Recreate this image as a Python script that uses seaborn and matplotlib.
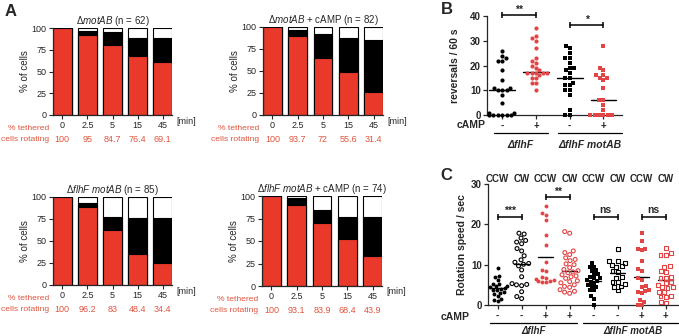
import warnings
import numpy as np
import pandas as pd
import matplotlib
matplotlib.use('Agg')
import matplotlib.pyplot as plt
import seaborn as sns

warnings.filterwarnings('ignore')

sns.set_style('ticks')
plt.rcParams['font.family'] = ['Liberation Sans', 'DejaVu Sans']
plt.rcParams['mathtext.fontset'] = 'custom'
plt.rcParams['mathtext.rm'] = 'Liberation Sans'
plt.rcParams['mathtext.it'] = 'Liberation Sans:italic'
plt.rcParams['mathtext.bf'] = 'Liberation Sans:bold'
plt.rcParams['axes.linewidth'] = 0.9

RED = '#E8392B'
TXT_RED = '#E0553F'
DOT_RED = '#E24545'

# ---------------- Panel A data ----------------
times = ['0', '2.5', '5', '15', '45']
a_titles = [r'$\mathit{ΔmotAB}$ (n = 62)',
            r'$\mathit{ΔmotAB}$ + cAMP (n = 82)',
            r'$\mathit{ΔflhF\ motAB}$ (n = 85)',
            r'$\mathit{ΔflhF\ motAB}$ + cAMP (n = 74)']
# % red (bottom), % black (middle), % white (top)
a_red = [[100, 91.5, 80.8, 67.3, 60.8],
         [100, 90.0, 65.0, 48.3, 26.0],
         [100, 88.6, 62.7, 35.4, 24.7],
         [100, 89.7, 69.5, 51.8, 33.0]]
a_black = [[0, 5.5, 15.0, 21.7, 28.2],
           [0, 6.6, 27.0, 39.0, 59.0],
           [0, 4.4, 14.1, 40.6, 51.3],
           [0, 7.7, 14.7, 25.4, 44.2]]
a_white = [[0, 3.0, 4.2, 11.0, 11.0],
           [0, 3.4, 8.0, 12.7, 15.0],
           [0, 7.0, 23.2, 24.0, 24.0],
           [0, 2.6, 15.8, 22.8, 22.8]]
a_rotating = [[100, 95, 84.7, 76.4, 69.1],
              [100, 93.7, 72, 55.6, 31.4],
              [100, 96.2, 83, 48.4, 34.4],
              [100, 93.1, 83.9, 68.4, 43.9]]

# ---------------- Panel B data ----------------
b_groups = ['flhF-', 'flhF+', 'flhFmotAB-', 'flhFmotAB+']
b_flhF_minus = [26, 24, 23, 22, 22, 18, 14, 11, 10, 10, 10, 11, 8, 5, 1, 0, 0, 0, 0, 0, 0, 1]
b_flhF_plus = [35, 32, 31, 30, 27, 23, 22, 21, 20, 19, 18, 17, 17, 17, 17, 17, 16, 15, 15, 13, 13, 10]
b_motAB_minus = [28, 27, 25, 23, 23, 21, 19, 19, 18, 17, 15, 15, 13, 12, 12, 10, 10, 8, 2, 0, 0]
b_motAB_plus = [28, 19, 18, 16, 15, 14, 15, 16, 11, 6, 6, 4, 2, 0, 0, 0, 0, 0, 0]
b_camp = ['-', '+', '-', '+']

# ---------------- Panel C data ----------------
c_groups = ['g1', 'g2', 'g3', 'g4', 'g5', 'g6', 'g7', 'g8']
c_dir = ['CCW', 'CW', 'CCW', 'CW', 'CCW', 'CW', 'CCW', 'CW']
c_camp = ['-', '-', '+', '+', '-', '-', '+', '+']
c_vals = [
    [9.2, 7.3, 7.0, 6.2, 5.3, 5.2, 4.7, 4.6, 4.5, 4.1, 4.0, 3.8, 3.7, 3.2, 3.0, 2.8, 2.2, 1.5, 1.3, 1.0],
    [17.8, 17.6, 16.6, 16.0, 15.6, 15.2, 14.0, 13.4, 12.2, 11.2, 10.6, 10.3, 10.1, 9.7, 8.7, 7.0,
     5.3, 5.0, 5.1, 4.8, 3.3, 2.1, 1.6],
    [24.5, 22.8, 22.4, 21.0, 17.3, 15.0, 10.7, 8.6, 8.5, 7.0, 6.8, 6.5, 6.2, 6.0, 5.9, 5.8, 5.7],
    [18.2, 17.8, 13.4, 13.0, 12.5, 11.7, 11.3, 11.0, 10.2, 10.0, 9.3, 8.8, 8.5, 8.2, 8.0, 7.5, 7.2,
     7.0, 6.6, 6.0, 5.8, 5.5, 5.0, 4.6, 4.4, 3.8, 3.4, 3.2, 2.9],
    [10.3, 9.5, 9.3, 8.7, 8.5, 7.8, 7.6, 7.0, 6.8, 6.6, 6.3, 6.0, 5.8, 5.4, 5.0, 4.6, 4.4, 3.8, 3.6,
     2.3, 1.6, 0.1],
    [13.8, 11.0, 10.8, 10.5, 10.0, 9.6, 9.4, 8.4, 8.2, 7.0, 6.8, 5.8, 5.6, 5.2, 4.6, 4.4, 3.6],
    [17.8, 15.9, 14.0, 13.8, 13.6, 10.8, 9.0, 8.5, 6.6, 6.2, 4.6, 4.5, 3.7, 3.5, 3.2, 2.9, 1.2, 0.8,
     0.1, 0.0],
    [14.2, 12.8, 12.4, 12.4, 9.6, 9.4, 8.5, 8.2, 7.0, 6.8, 6.7, 5.6, 5.4, 5.0, 4.4, 4.4, 4.2, 3.3,
     3.2, 2.2, 2.1, 2.0, 0.8, 0.6],
]

W, H = 679, 336
fig = plt.figure(figsize=(W / 100, H / 100), dpi=100)


def px_axes(x0, y0, x1, y1):
    return fig.add_axes([x0 / W, 1 - y1 / H, (x1 - x0) / W, (y1 - y0) / H])


# ---------------- Panel A ----------------
a_boxes = [(53, 28, 172, 115), (263, 27, 383, 115), (53, 197, 172, 285), (262, 196, 382, 286)]
for k, box in enumerate(a_boxes):
    ax = px_axes(*box)
    red = np.array(a_red[k])
    black = np.array(a_black[k])
    white = np.array(a_white[k])
    kw = dict(order=times, width=0.74, saturation=1, edgecolor='black', linewidth=0.8, ax=ax)
    sns.barplot(x=times, y=red + black + white, color='white', **kw)
    sns.barplot(x=times, y=red + black, color='black', **kw)
    sns.barplot(x=times, y=red, color=RED, **kw)
    ax.set_xlim(-0.37, 4.37)
    ax.set_ylim(0, 100)
    ax.set_yticks([0, 25, 50, 75, 100])
    ax.set_xlabel('')
    ax.set_ylabel('% of cells', fontsize=7, labelpad=1)
    ax.set_title(a_titles[k], fontsize=7, pad=3)
    ax.tick_params(labelsize=6.5, length=3, width=0.8, pad=1.5)
    sns.despine(ax=ax)
    for i, v in enumerate(a_rotating[k]):
        ax.annotate(f'{v:g}', xy=(i, 0), xycoords=('data', 'axes fraction'), xytext=(0, -24.5),
                    textcoords='offset pixels', ha='center', va='center', color=TXT_RED, fontsize=6.5)
    ax.annotate('% tethered', xy=(0, 0), xycoords='axes fraction', xytext=(-4, -13.5),
                textcoords='offset pixels', ha='right', va='center', color=TXT_RED, fontsize=6.1)
    ax.annotate('cells rotating', xy=(0, 0), xycoords='axes fraction', xytext=(-4, -24.5),
                textcoords='offset pixels', ha='right', va='center', color=TXT_RED, fontsize=6.1)
    ax.annotate('[min]', xy=(1, 0), xycoords='axes fraction', xytext=(4, -6),
                textcoords='offset pixels', ha='left', va='center', fontsize=6.5)


def swarm_group(ax, order, group, vals, marker, color, filled, size):
    n_before = len(ax.collections)
    sns.swarmplot(x=[group] * len(vals), y=vals, order=order, marker=marker, color=color,
                  size=size, linewidth=0, ax=ax)
    for coll in ax.collections[n_before:]:
        if filled:
            coll.set_clip_on(False)
        else:
            coll.set_facecolor('none')
            coll.set_edgecolor(color)
            coll.set_linewidth(0.8)


def sig_bar(ax, x0, x1, y, label, dy, fs=7.5):
    ax.plot([x0, x1], [y, y], color='black', lw=1.1, marker='|', ms=5, mew=1.1, clip_on=False)
    ax.text((x0 + x1) / 2, y + dy, label, ha='center', va='bottom', fontsize=fs,
            fontweight='bold', clip_on=False)


# ---------------- Panel B ----------------
axb = px_axes(487, 16, 622, 115)
b_vals = [b_flhF_minus, b_flhF_plus, b_motAB_minus, b_motAB_plus]
b_style = [('o', 'black'), ('o', DOT_RED), ('s', 'black'), ('s', DOT_RED)]
for g, vals, (m, c) in zip(b_groups, b_vals, b_style):
    swarm_group(axb, b_groups, g, vals, m, c, True, 3.0)
for i, vals in enumerate(b_vals):
    med = np.median(vals)
    axb.plot([i - 0.38, i + 0.38], [med, med], color='black', lw=1)
axb.set_xlim(-0.45, 3.55)
axb.set_ylim(0, 40)
axb.set_yticks([0, 10, 20, 30, 40])
axb.set_xticks(range(4))
axb.set_xticklabels(b_camp, fontweight='bold', fontsize=7.5)
axb.set_xlabel('')
axb.set_ylabel('reversals / 60 s', fontsize=7.5, fontweight='bold', labelpad=7)
axb.tick_params(labelsize=7, length=3, width=0.9, pad=1.5)
for t in axb.get_yticklabels():
    t.set_fontweight('bold')
sns.despine(ax=axb)
sig_bar(axb, 0, 1, 40.4, '**', 0.0)
sig_bar(axb, 2, 3, 36.4, '*', 0.0)
xt = axb.get_xaxis_transform()
axb.text(-0.5, -0.105, 'cAMP', transform=xt, ha='right', va='center', fontsize=7.5,
         fontweight='bold', clip_on=False)
axb.plot([-0.24, 1.36], [-0.18, -0.18], transform=xt, color='black', lw=0.9, clip_on=False)
axb.plot([1.65, 3.55], [-0.18, -0.18], transform=xt, color='black', lw=0.9, clip_on=False)
axb.text(0.55, -0.30, 'ΔflhF', transform=xt, ha='center', va='center', fontsize=7.5,
         fontweight='bold', fontstyle='italic')
axb.text(2.6, -0.30, 'ΔflhF motAB', transform=xt, ha='center', va='center', fontsize=7.5,
         fontweight='bold', fontstyle='italic')

# ---------------- Panel C ----------------
axc = px_axes(488, 184, 678, 305)
c_style = [('o', 'black', True), ('o', 'black', False), ('o', DOT_RED, True), ('o', DOT_RED, False),
           ('s', 'black', True), ('s', 'black', False), ('s', DOT_RED, True), ('s', DOT_RED, False)]
for g, vals, (m, c, f) in zip(c_groups, c_vals, c_style):
    swarm_group(axc, c_groups, g, vals, m, c, f, 2.8)
for i, vals in enumerate(c_vals):
    mu = np.mean(vals)
    axc.plot([i - 0.32, i + 0.32], [mu, mu], color='black', lw=1)
axc.set_xlim(-0.4, 7.51)
axc.set_ylim(0, 30)
axc.set_yticks([0, 10, 20, 30])
axc.set_xticks(range(8))
axc.set_xticklabels(c_camp, fontweight='bold', fontsize=7.5)
axc.set_xlabel('')
axc.set_ylabel('Rotation speed / sec', fontsize=7.5, fontweight='bold', labelpad=3)
axc.tick_params(labelsize=7, length=3, width=0.9, pad=1.5)
for t in axc.get_yticklabels():
    t.set_fontweight('bold')
sns.despine(ax=axc)
for i, d in enumerate(c_dir):
    axc.text(i, 31.2, d, ha='center', va='center', fontsize=7, fontweight='bold', clip_on=False)
sig_bar(axc, 0, 1, 21.9, '***', 0.1)
sig_bar(axc, 2, 3, 26.8, '**', 0.1)
sig_bar(axc, 4, 5, 21.9, 'ns', 0.4)
sig_bar(axc, 6, 7, 21.9, 'ns', 0.4)
xt = axc.get_xaxis_transform()
axc.text(-1.15, -0.10, 'cAMP', transform=xt, ha='right', va='center', fontsize=7.5,
         fontweight='bold', clip_on=False)
axc.plot([-0.32, 3.31], [-0.149, -0.149], transform=xt, color='black', lw=0.9, clip_on=False)
axc.plot([3.56, 7.51], [-0.149, -0.149], transform=xt, color='black', lw=0.9, clip_on=False)
axc.text(1.48, -0.215, 'ΔflhF', transform=xt, ha='center', va='center', fontsize=7,
         fontweight='bold', fontstyle='italic')
axc.text(5.64, -0.215, 'ΔflhF motAB', transform=xt, ha='center', va='center', fontsize=7,
         fontweight='bold', fontstyle='italic')

# panel letters
for lab, x, y in [('A', 11, 11), ('B', 447, 9), ('C', 446, 175)]:
    fig.text(x / W, 1 - y / H, lab, fontsize=12, fontweight='bold', ha='center', va='center')

fig.savefig('out.png', dpi=100)
